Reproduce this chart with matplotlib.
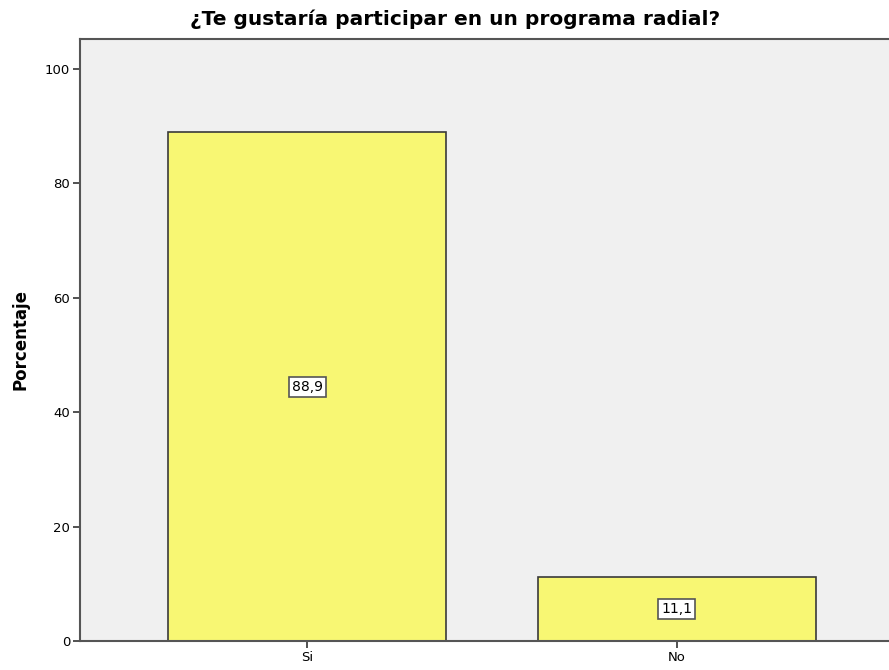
import matplotlib.pyplot as plt

plt.rcParams['font.family'] = ['DejaVu Sans']

# Data
categories = ['Si', 'No']
percentages = [88.9, 11.1]

fig = plt.figure(figsize=(8.89, 6.70), dpi=100)
# axes runs past the right edge of the picture, as in the original export
ax = fig.add_axes([80 / 889, 29 / 670, 824 / 889, 602.5 / 670])
ax.set_facecolor('#f0f0f0')

xpos = list(range(len(categories)))
ax.bar(xpos, percentages, width=0.751, color='#f8f773', edgecolor='#3a3a3a', linewidth=1.2)

# value labels in the middle of each bar
for x, v in zip(xpos, percentages):
    ax.text(x, v / 2, f'{v:.1f}'.replace('.', ','), ha='center', va='center', fontsize=10,
            bbox=dict(boxstyle='square,pad=0.22', facecolor='white', edgecolor='#555555', linewidth=1.2))

ax.set_xlim(-0.614, 1.614)
ax.set_ylim(0, 105.3)
ax.set_xticks(xpos)
ax.set_xticklabels(categories)
ax.set_yticks([0, 20, 40, 60, 80, 100])
ax.tick_params(axis='both', direction='out', length=5, width=1.2, color='#333333', labelsize=9.5, pad=2)

for side in ['left', 'bottom', 'top']:
    ax.spines[side].set_color('#555555')
    ax.spines[side].set_linewidth(1.5)
ax.spines['right'].set_visible(False)

ax.set_ylabel('Porcentaje', fontsize=12, fontweight='bold', labelpad=11)
fig.text(455 / 889, 651 / 670, '¿Te gustaría participar en un programa radial?', ha='center', va='center',
         fontsize=14.5, fontweight='bold')

fig.savefig('out.png', dpi=100)
